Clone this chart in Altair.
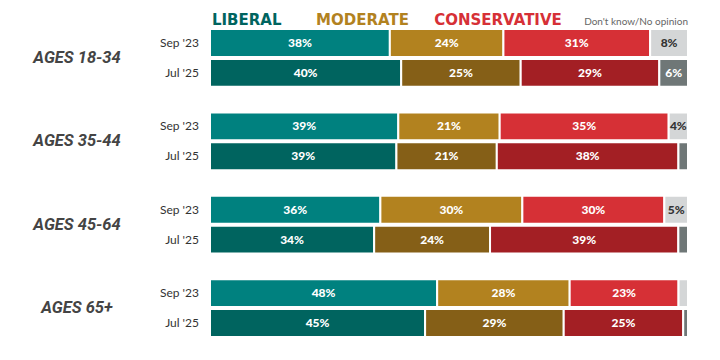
import altair as alt
import pandas as pd

ages = ["AGES 18-34", "AGES 35-44", "AGES 45-64", "AGES 65+"]
wave_codes = ["sep", "jul"]
wave_labels = ["Sep '23", "Jul '25"]
categories = ["Liberal", "Moderate", "Conservative", "Don't know/No opinion"]

liberal_sep = [38, 39, 36, 48]
liberal_jul = [40, 39, 34, 45]
moderate_sep = [24, 21, 30, 28]
moderate_jul = [25, 21, 24, 29]
conservative_sep = [31, 35, 30, 23]
conservative_jul = [29, 38, 39, 25]
dk_sep = [8, 4, 5, 2]
dk_jul = [6, 2, 2, 1]

series = {
    ("Liberal", "sep"): liberal_sep, ("Liberal", "jul"): liberal_jul,
    ("Moderate", "sep"): moderate_sep, ("Moderate", "jul"): moderate_jul,
    ("Conservative", "sep"): conservative_sep, ("Conservative", "jul"): conservative_jul,
    ("Don't know/No opinion", "sep"): dk_sep, ("Don't know/No opinion", "jul"): dk_jul,
}

rows = []
for i, age in enumerate(ages):
    for w, wl in zip(wave_codes, wave_labels):
        vals = [series[(c, w)][i] for c in categories]
        total = sum(vals)
        cum = 0
        for ci, (c, v) in enumerate(zip(categories, vals)):
            start = cum / total
            cum += v
            end = cum / total
            rows.append({"age": age, "wave": w, "wave_label": wl, "cat": c,
                         "key": f"c{ci}_{w}", "value": v, "start": start,
                         "end": end, "mid": (start + end) / 2,
                         "label": f"{v}%"})
df = pd.DataFrame(rows)

key_domain = ["c0_sep", "c0_jul", "c1_sep", "c1_jul", "c2_sep", "c2_jul", "c3_sep", "c3_jul"]
key_range = ["#00817f", "#00645f", "#b2821f", "#855f17", "#d63036", "#a31f24", "#d4d6d7", "#6f7777"]

yenc = alt.Y("age:N", sort=ages, axis=None,
             scale=alt.Scale(paddingInner=0.307, paddingOuter=0))
yoff = alt.YOffset("wave:N", sort=wave_codes,
                   scale=alt.Scale(paddingInner=0.067, paddingOuter=0))
xscale = alt.Scale(domain=[0, 1])

base = alt.Chart(df)

bars = base.mark_bar(stroke="white", strokeWidth=2).encode(
    x=alt.X("start:Q", scale=xscale, axis=None),
    x2="end:Q",
    y=yenc,
    yOffset=yoff,
    color=alt.Color("key:N", scale=alt.Scale(domain=key_domain, range=key_range), legend=None),
)

labels = base.transform_filter(
    "datum.cat !== \"Don't know/No opinion\" || datum.value >= 4"
).mark_text(font="Lato", fontWeight=900, fontSize=12, baseline="middle", align="center").encode(
    x=alt.X("mid:Q", scale=xscale, axis=None),
    y=yenc,
    yOffset=yoff,
    text="label:N",
    color=alt.condition("datum.key === 'c3_sep'", alt.value("#333333"), alt.value("white")),
)

wave_text = base.transform_filter("datum.cat === 'Liberal'").mark_text(
    font="Lato", fontSize=12, align="right", baseline="middle", color="#333333"
).encode(
    x=alt.value(-11),
    y=yenc,
    yOffset=yoff,
    text="wave_label:N",
)

age_df = pd.DataFrame({"age": ages})
age_text = alt.Chart(age_df).mark_text(
    font="Roboto", fontSize=16.5, fontWeight="bold", fontStyle="italic",
    align="center", baseline="middle", color="#444444"
).encode(
    x=alt.value(-133),
    y=alt.Y("age:N", sort=ages, axis=None, scale=alt.Scale(paddingInner=0.307, paddingOuter=0)),
    text="age:N",
)

legend_items = [
    ("LIBERAL", 0.004, "left", "#00645f", 15, "bold", "DejaVu Sans"),
    ("MODERATE", 0.222, "left", "#b2821f", 15, "bold", "DejaVu Sans"),
    ("CONSERVATIVE", 0.469, "left", "#d63036", 15, "bold", "DejaVu Sans"),
    ("Don't know/No opinion", 1.0, "right", "#666666", 10, "normal", "Lato"),
]
legend_layers = []
for txt, pos, al, col, fs, fw, fnt in legend_items:
    ldf = pd.DataFrame({"t": [txt], "p": [pos]})
    legend_layers.append(
        alt.Chart(ldf).mark_text(align=al, baseline="alphabetic", color=col,
                                 fontSize=fs, fontWeight=fw, font=fnt).encode(
            x=alt.X("p:Q", scale=xscale, axis=None),
            y=alt.value(-4),
            text="t:N",
        )
    )

chart = alt.layer(bars, labels, wave_text, age_text, *legend_layers).properties(
    width=478, height=308,
    autosize=alt.AutoSizeParams(type="none"),
    padding={"left": 202, "top": 21, "right": 16, "bottom": 14},
).configure_view(stroke=None)

chart.save("out.html", embed_options={"renderer": "svg", "actions": False})
